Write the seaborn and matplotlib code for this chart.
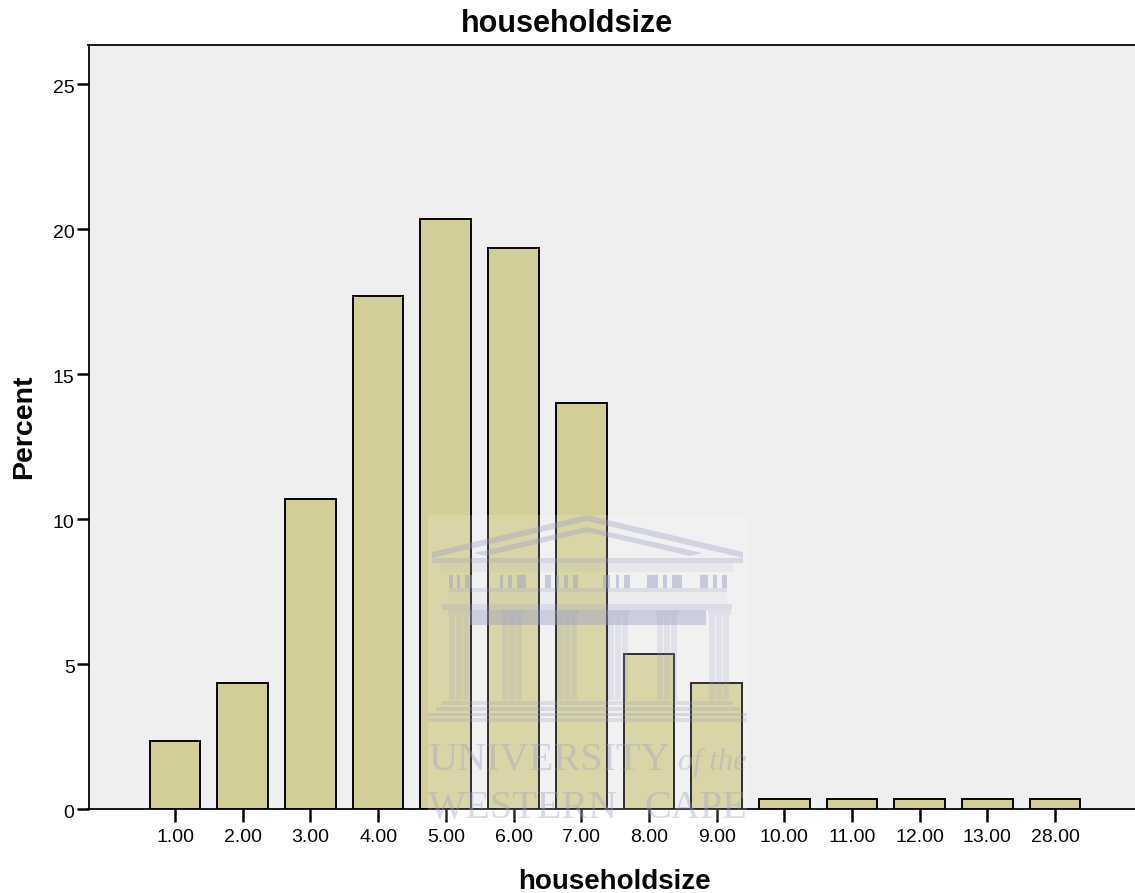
import matplotlib
matplotlib.use("Agg")
import matplotlib.pyplot as plt
from matplotlib.patches import Polygon, Rectangle
from matplotlib.transforms import ScaledTranslation
import pandas as pd
import seaborn as sns

# values
categories = ["1.00", "2.00", "3.00", "4.00", "5.00", "6.00", "7.00",
              "8.00", "9.00", "10.00", "11.00", "12.00", "13.00", "28.00"]
percent = [2.33, 4.33, 10.67, 17.67, 20.33, 19.33, 14.0,
           5.33, 4.33, 0.33, 0.33, 0.33, 0.33, 0.33]
y_ticks = [0, 5, 10, 15, 20, 25]

W, H = 1135, 893
BAR = "#d3ce97"
BG = "#efefef"
INK = "#050505"
MARK = "#9a9ec4"

sns.set_theme(style="white")
plt.rcParams["font.family"] = ["Liberation Sans", "DejaVu Sans"]

df = pd.DataFrame({"householdsize": categories, "Percent": percent})

fig = plt.figure(figsize=(W / 100, H / 100), dpi=100, facecolor="white")
left, right, top, bottom = 88.5, 1137, 45, 808.5
ax = fig.add_axes([left / W, (H - bottom) / H, (right - left) / W, (bottom - top) / H])
ax.set_facecolor(BG)

sns.barplot(data=df, x="householdsize", y="Percent", color=BAR, saturation=1,
            width=0.75, edgecolor=INK, linewidth=1.4, ax=ax)

ax.set_xlim(-1.278, 14.21)
ax.set_ylim(0, 26.33)
ax.set_yticks(y_ticks)
ax.tick_params(axis="x", direction="out", length=9, width=1.8, color=INK,
               labelsize=14, labelcolor=INK, pad=5.5, bottom=True)
ax.tick_params(axis="y", direction="out", length=9, width=1.8, color=INK,
               labelsize=14, labelcolor=INK, pad=1, left=True)
# the y labels sit a little under their ticks
for lab in ax.get_yticklabels():
    lab.set_transform(lab.get_transform() + ScaledTranslation(0, -3 / 100, fig.dpi_scale_trans))
for side in ["left", "top", "bottom"]:
    ax.spines[side].set_color(INK)
    ax.spines[side].set_linewidth(1.3)
ax.spines["right"].set_visible(False)

ax.set_title("householdsize", fontsize=22, fontweight="bold", color=INK, pad=9)
ax.title.set_x((566.5 - left) / (right - left))
ax.set_xlabel("householdsize", fontsize=20, fontweight="bold", color=INK, labelpad=17)
ax.xaxis.label.set_x((614.5 - left) / (right - left))
ax.set_ylabel("Percent", fontsize=20.5, fontweight="bold", color=INK, labelpad=11.5)

# university watermark on top of everything, in pixel coordinates
wm = fig.add_axes([0, 0, 1, 1], zorder=5)
wm.set_xlim(0, W)
wm.set_ylim(H, 0)
wm.axis("off")
wm.patch.set_alpha(0)

wm.add_patch(Rectangle((428, 515), 319, 305, color="white", alpha=0.16, lw=0))


def band(x0, y0, x1, y1, alpha=0.3, color=MARK):
    wm.add_patch(Rectangle((x0, y0), x1 - x0, y1 - y0, color=color, alpha=alpha, lw=0))


# pediment
for pts in ([(432, 552), (587, 515), (743, 552), (743, 558), (587, 521), (432, 558)],
            [(474, 553), (587, 527), (702, 553), (690, 556), (587, 532), (486, 556)]):
    wm.add_patch(Polygon(pts, closed=True, color=MARK, alpha=0.36, lw=0))
band(432, 558, 743, 563, alpha=0.3)
band(441, 563, 733, 572, alpha=0.1)

# frieze, painted between the metopes
for x0, x1 in [(449, 453), (457, 460), (465, 472), (500, 503), (508, 512), (517, 526),
               (545, 551), (556, 559), (564, 568), (573, 578), (603, 610), (616, 619),
               (624, 630), (647, 658), (663, 667), (672, 682), (700, 708), (713, 717), (722, 727)]:
    band(x0, 575, x1, 588, alpha=0.5)
band(449, 588, 727, 592, alpha=0.25)
band(449, 592, 727, 604, alpha=0.06)

# architrave
band(442, 604, 732, 610, alpha=0.25)
band(470, 610, 706, 625, alpha=0.42)

# columns
for x0 in [448, 501, 556, 607, 656, 708]:
    band(x0, 610, x0 + 23, 615, alpha=0.2)
    for dx in [1, 8, 15]:
        band(x0 + dx, 615, x0 + dx + 6, 700, alpha=0.2)

# steps
band(442, 701, 733, 705, alpha=0.25)
band(436, 707, 740, 711, alpha=0.28)
band(428, 713, 747, 716, alpha=0.32)
band(428, 718, 747, 722, alpha=0.25)

# lettering
serif = dict(family="Liberation Serif", color=MARK, alpha=0.38, va="baseline")
wm.text(428, 770, "UNIVERSITY", fontsize=29, ha="left", **serif)
wm.text(747, 770, "of the", fontsize=22, ha="right", style="italic", **serif)
wm.text(428, 818, "WESTERN", fontsize=29, ha="left", **serif)
wm.text(747, 818, "CAPE", fontsize=29, ha="right", **serif)

fig.savefig("out.png", dpi=100)
